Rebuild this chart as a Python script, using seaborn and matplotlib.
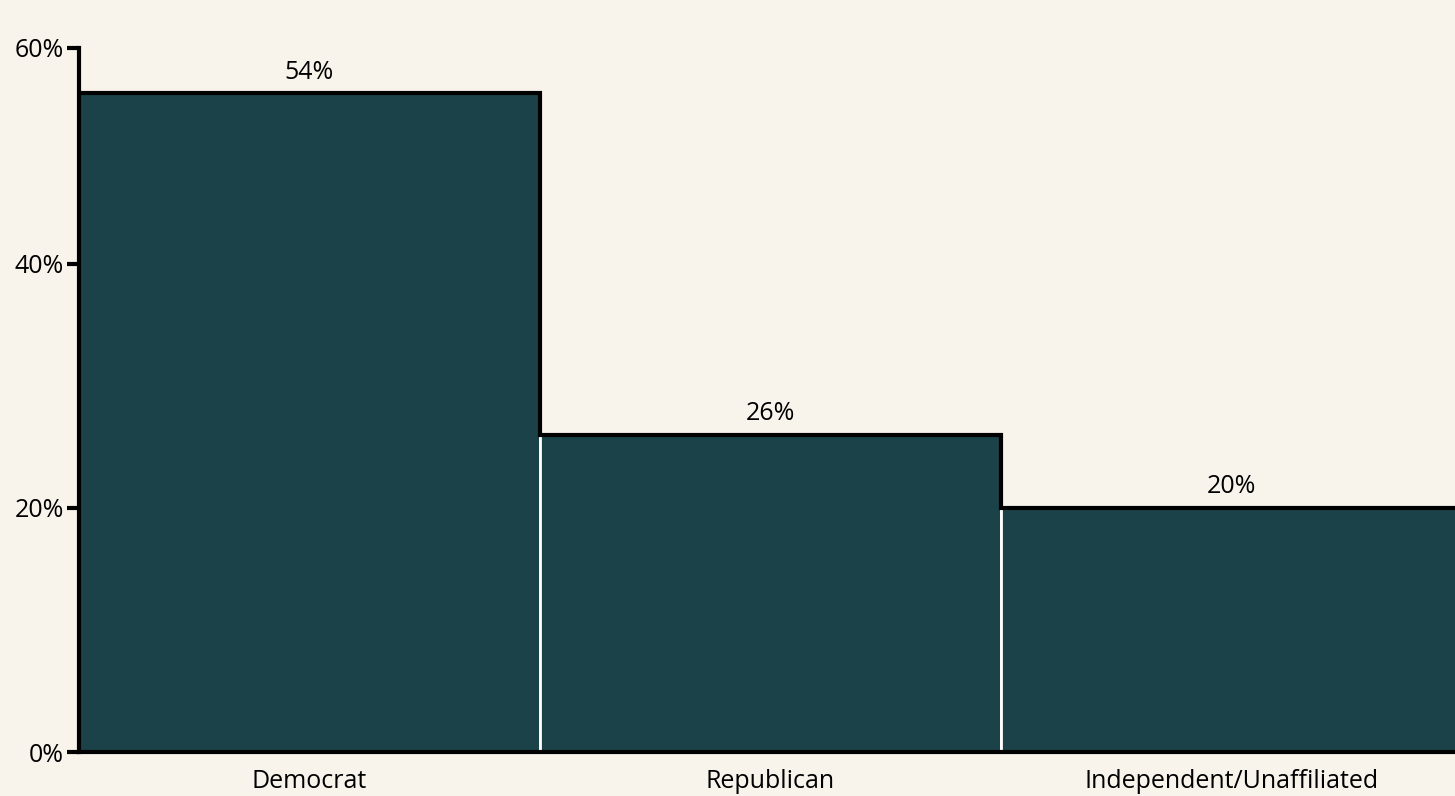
import numpy as np
import pandas as pd
import matplotlib
matplotlib.use('Agg')
import matplotlib.pyplot as plt
import seaborn as sns

# ---- data ----
parties = ["Democrat", "Republican", "Independent/Unaffiliated"]
shares = [54, 26, 20]
y_top = 57.7           # axis end (labelled "60%" in the source)
y_ticks = [0, 20, 40, y_top]
y_tick_labels = ["0%", "20%", "40%", "60%"]

bg = "#f8f4ec"
bar_color = "#1a4248"

sns.set_theme(style="white")
plt.rcParams['font.family'] = ['Open Sans', 'DejaVu Sans']

df = pd.DataFrame({"party": parties, "share": shares})

fig = plt.figure(figsize=(14.55, 7.96), dpi=100, facecolor=bg)
# plot area runs a little past the right edge of the image, as in the source
ax = fig.add_axes([79 / 1455, 44 / 796, 1383 / 1455, 704 / 796])
ax.set_facecolor(bg)

sns.barplot(data=df, x="party", y="share", color=bar_color, saturation=1,
            width=1.0, edgecolor="white", linewidth=2, ax=ax)

# step outline across bar tops
xs = np.arange(len(shares))
ax.step(np.r_[xs - 0.5, xs[-1] + 0.5], np.r_[shares, shares[-1]], where="post",
        color="black", lw=3, solid_joinstyle="miter", zorder=5, clip_on=False)

for x, v in zip(xs, shares):
    ax.text(x, v + 0.7, f"{v}%", ha="center", va="bottom", fontsize=18, color="black")

ax.set_xlim(-0.5, len(shares) - 0.5)
ax.set_ylim(0, y_top)
ax.set_yticks(y_ticks)
ax.set_yticklabels(y_tick_labels)
ax.set_xlabel("")
ax.set_ylabel("")
ax.tick_params(axis="y", left=True, length=9, width=3, color="black",
               labelcolor="black", labelsize=18, pad=2)
ax.tick_params(axis="x", bottom=False, length=0, labelcolor="black", labelsize=18, pad=12)

sns.despine(ax=ax, top=True, right=True)
for side in ["left", "bottom"]:
    ax.spines[side].set_color("black")
    ax.spines[side].set_linewidth(3)
    ax.spines[side].set_zorder(6)

fig.savefig("out.png", dpi=100, facecolor=bg)
